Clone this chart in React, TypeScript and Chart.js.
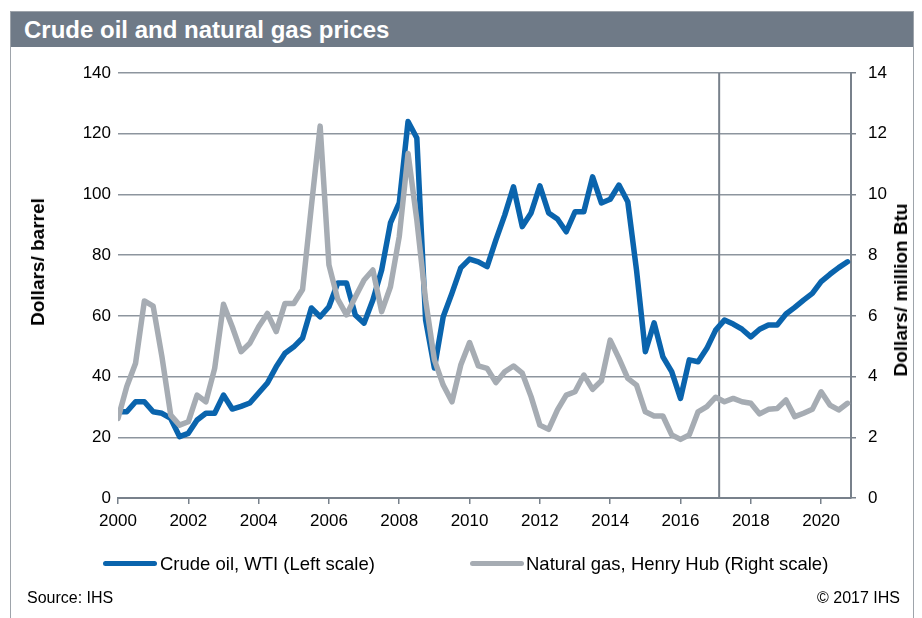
import React, { useEffect, useRef } from "react";
import { Chart, registerables } from "chart.js";

Chart.register(...registerables);

// Quarterly values, 2000Q1 .. 2020Q4
const startYear = 2000;
const oilWTI = [
  28.4, 28.4, 31.7, 31.7,
  28.4, 27.9, 26.2, 20.2,
  21.3, 25.7, 27.9, 27.9,
  33.9, 29.3, 30.2, 31.3,
  34.6, 37.9, 43.2, 47.7,
  49.8, 52.7, 62.6, 59.7,
  63.0, 70.8, 70.8, 60.3,
  57.6, 65.2, 75.1, 90.6,
  97.2, 124.0, 118.6, 58.6,
  42.8, 59.7, 67.5, 75.8,
  78.7, 77.8, 76.2, 85.0,
  93.2, 102.5, 89.4, 93.9,
  102.8, 93.9, 91.9, 87.7,
  94.3, 94.3, 105.8, 97.2,
  98.4, 103.1, 97.6, 75.0,
  48.2, 57.7, 46.5, 41.6,
  32.8, 45.5, 44.9, 49.3,
  55.3, 58.6, 57.3, 55.6,
  53.1, 55.6, 57.0, 57.0,
  60.6, 62.8, 65.2, 67.4,
  71.3, 73.7, 75.9, 77.8,
];
const gasHenryHub = [
  2.62, 3.67, 4.44, 6.49,
  6.32, 4.65, 2.73, 2.40,
  2.51, 3.39, 3.17, 4.27,
  6.38, 5.64, 4.82, 5.10,
  5.64, 6.08, 5.48, 6.41,
  6.41, 6.87, 9.60, 12.25,
  7.68, 6.55, 6.03, 6.62,
  7.18, 7.51, 6.14, 6.96,
  8.61, 11.35, 9.16, 6.52,
  4.55, 3.72, 3.17, 4.38,
  5.12, 4.35, 4.27, 3.80,
  4.16, 4.35, 4.11, 3.34,
  2.40, 2.26, 2.90, 3.39,
  3.50, 4.05, 3.58, 3.86,
  5.20, 4.60, 3.94, 3.72,
  2.84, 2.70, 2.70, 2.08,
  1.93, 2.08, 2.84, 3.01,
  3.32, 3.17, 3.28, 3.17,
  3.12, 2.77, 2.92, 2.95,
  3.23, 2.68, 2.79, 2.92,
  3.50, 3.06, 2.90, 3.12,
];
const forecastStart = 2017.1;
const xMin = 2000;
const xMax = 2020.85;
const oilLabel = "Crude oil, WTI (Left scale)";
const gasLabel = "Natural gas, Henry Hub (Right scale)";
const titleText = "Crude oil and natural gas prices";
const leftTitle = "Dollars/ barrel";
const rightTitle = "Dollars/ million Btu";

const FONT = "'Liberation Sans', Arial, Helvetica, sans-serif";
const BLUE = "#0a64ad";
const GRAY = "#a6acb3";
const AXIS = "#78818b";
const GRID = "#8d959e";

const forecastLine = {
  id: "forecastLine",
  beforeDatasetsDraw(chart: any) {
    const { ctx, chartArea, scales } = chart;
    const x = scales.x.getPixelForValue(forecastStart);
    ctx.save();
    ctx.strokeStyle = AXIS;
    ctx.lineWidth = 2;
    ctx.beginPath();
    ctx.moveTo(x, chartArea.top);
    ctx.lineTo(x, chartArea.bottom);
    ctx.stroke();
    ctx.restore();
  },
};

export default function App() {
  const ref = useRef<HTMLCanvasElement | null>(null);

  useEffect(() => {
    document.body.style.margin = "0";
    const xs = oilWTI.map((_, i) => startYear + i / 4);
    const chart = new Chart(ref.current as HTMLCanvasElement, {
      type: "line",
      data: {
        datasets: [
          {
            label: oilLabel,
            data: oilWTI.map((v, i) => ({ x: xs[i], y: v })),
            yAxisID: "y",
            borderColor: BLUE,
            backgroundColor: BLUE,
            borderWidth: 5.5,
            pointRadius: 0,
            tension: 0,
            borderJoinStyle: "round",
            borderCapStyle: "round",
            order: 1,
          },
          {
            label: gasLabel,
            data: gasHenryHub.map((v, i) => ({ x: xs[i], y: v })),
            yAxisID: "y2",
            borderColor: GRAY,
            backgroundColor: GRAY,
            borderWidth: 5.5,
            pointRadius: 0,
            tension: 0,
            borderJoinStyle: "round",
            borderCapStyle: "round",
            order: 0,
          },
        ],
      },
      options: {
        responsive: false,
        animation: false,
        devicePixelRatio: 1,
        layout: { padding: { top: 73, left: 0, right: 0, bottom: 0 } },
        plugins: {
          legend: { display: false },
          tooltip: { enabled: false },
        },
        scales: {
          x: {
            type: "linear",
            min: xMin,
            max: xMax,
            ticks: {
              stepSize: 2,
              includeBounds: false,
              autoSkip: false,
              maxRotation: 0,
              padding: 7,
              color: "#000",
              font: { family: FONT, size: 17 },
              callback: (v: any) => String(v),
            },
            grid: {
              drawOnChartArea: false,
              drawTicks: true,
              tickLength: 6,
              color: AXIS,
              lineWidth: 1.5,
            },
            border: { display: true, color: AXIS, width: 2 },
            afterFit: (s: any) => {
              s.height = 120;
            },
          },
          y: {
            position: "left",
            min: 0,
            max: 140,
            ticks: {
              stepSize: 20,
              padding: 7,
              color: "#000",
              font: { family: FONT, size: 17 },
            },
            grid: { color: GRID, lineWidth: 1.5, drawTicks: false },
            border: { display: false },
            afterFit: (s: any) => {
              s.width = 118;
            },
          },
          y2: {
            position: "right",
            min: 0,
            max: 14,
            ticks: {
              stepSize: 2,
              padding: 12,
              color: "#000",
              font: { family: FONT, size: 17 },
            },
            grid: {
              drawOnChartArea: false,
              drawTicks: true,
              tickLength: 5,
              color: AXIS,
              lineWidth: 1.5,
            },
            border: { display: true, color: AXIS, width: 2 },
            afterFit: (s: any) => {
              s.width = 922 - 851;
            },
          },
        },
      },
      plugins: [forecastLine],
    });
    return () => chart.destroy();
  }, []);

  const abs = (o: React.CSSProperties): React.CSSProperties => ({ position: "absolute", ...o });
  const rot = (cx: number, cy: number): React.CSSProperties =>
    abs({
      left: cx,
      top: cy,
      transform: "translate(-50%, -50%) rotate(-90deg)",
      whiteSpace: "nowrap",
      fontWeight: "bold",
      fontSize: 19,
      color: "#000",
    });

  return (
    <div
      style={{
        position: "relative",
        width: 922,
        height: 618,
        overflow: "hidden",
        background: "#fff",
        fontFamily: FONT,
      }}
    >
      <div
        style={abs({
          left: 10,
          top: 11,
          width: 904,
          height: 640,
          border: "1px solid #9ea4ab",
          boxSizing: "border-box",
        })}
      />
      <div
        style={abs({
          left: 11,
          top: 12,
          width: 902,
          height: 35,
          background: "#6f7a87",
          color: "#fff",
          fontWeight: "bold",
          fontSize: 24,
          lineHeight: "35px",
          paddingLeft: 13,
          boxSizing: "border-box",
          whiteSpace: "nowrap",
        })}
      >
        {titleText}
      </div>
      <canvas ref={ref} width={922} height={618} style={abs({ left: 0, top: 0, width: 922, height: 618 })} />
      <div style={rot(38, 262)}>{leftTitle}</div>
      <div style={rot(901, 290)}>{rightTitle}</div>

      <div style={abs({ left: 103, top: 561, width: 54, height: 5, background: BLUE, borderRadius: 3 })} />
      <div style={abs({ left: 160, top: 553, fontSize: 18.5, lineHeight: "22px", whiteSpace: "nowrap" })}>{oilLabel}</div>
      <div style={abs({ left: 470, top: 561, width: 54, height: 5, background: GRAY, borderRadius: 3 })} />
      <div style={abs({ left: 526, top: 553, fontSize: 18.5, lineHeight: "22px", whiteSpace: "nowrap" })}>{gasLabel}</div>

      <div style={abs({ left: 27, top: 589, fontSize: 16, lineHeight: "18px" })}>Source: IHS</div>
      <div style={abs({ right: 22, top: 589, fontSize: 16, lineHeight: "18px" })}>© 2017 IHS</div>
    </div>
  );
}
